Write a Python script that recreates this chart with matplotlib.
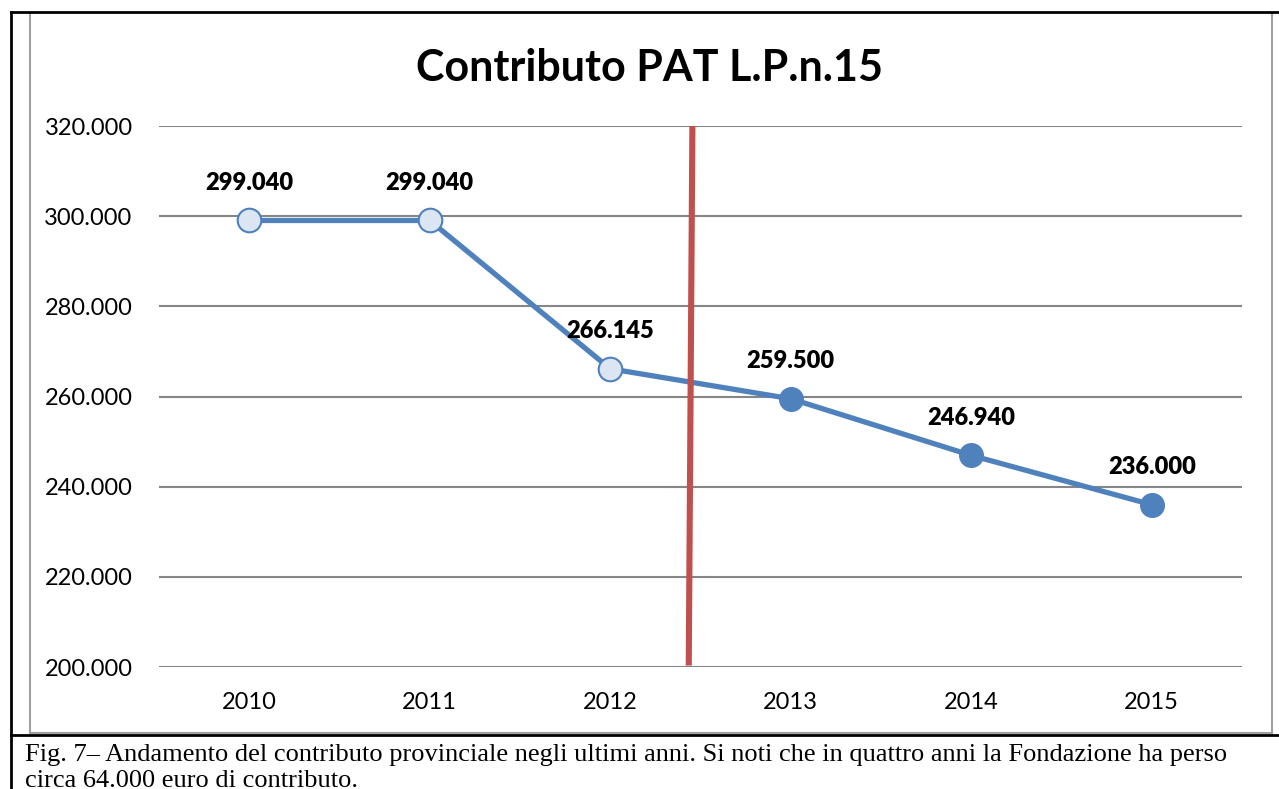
import matplotlib.pyplot as plt
from matplotlib.lines import Line2D

# dati
anni = ['2010', '2011', '2012', '2013', '2014', '2015']
contributo = [299.040, 299.040, 266.145, 259.500, 246.940, 236.000]
etichette = ['299.040', '299.040', '266.145', '259.500', '246.940', '236.000']
y_ticks = [200, 220, 240, 260, 280, 300, 320]
y_labels = ['200.000', '220.000', '240.000', '260.000', '280.000', '300.000', '320.000']
n_chiari = 3  # primi tre punti con marcatore chiaro

blu = '#4F81BD'
chiaro = '#DCE6F2'
rosso = '#C0504D'
grigio = '#868686'

fig = plt.figure(figsize=(12.79, 7.89), dpi=100)
W, H = 1279, 789

ax = fig.add_axes([159 / W, 122 / H, (1242 - 159) / W, (663 - 122) / H])
x = list(range(len(anni)))

ax.plot(x, contributo, color=blu, lw=3.8, zorder=3, solid_capstyle='round')
ax.plot(x[:n_chiari], contributo[:n_chiari], 'o', ms=17, mfc=chiaro, mec=blu, mew=1.5, zorder=4)
ax.plot(x[n_chiari:], contributo[n_chiari:], 'o', ms=17, mfc=blu, mec=blu, zorder=4)

for xi, yi, lab in zip(x, contributo, etichette):
    ax.annotate(lab, (xi, yi), xytext=(0, 27), textcoords='offset points',
                ha='center', va='center', fontsize=17, fontweight='heavy',
                family='Lato', color='black', zorder=5)

# linea rossa di separazione
ax.plot([2.455, 2.435], [319.5, 201], color=rosso, lw=4.4, zorder=6)

ax.set_xlim(-0.5, 5.5)
ax.set_ylim(200, 320)
ax.set_yticks(y_ticks)
ax.set_yticklabels(y_labels, family='Lato', fontsize=17)
ax.set_xticks(x)
ax.set_xticklabels(anni, family='Lato', fontsize=17)
ax.tick_params(length=0)
ax.tick_params(axis='y', pad=19)
ax.tick_params(axis='x', pad=18)
ax.grid(axis='y', color=grigio, lw=1.5)
ax.set_axisbelow(True)
for s in ax.spines.values():
    s.set_visible(False)

fig.text(650 / W, 1 - 68 / H, 'Contributo PAT L.P.n.15', ha='center', va='center',
         fontsize=31, fontweight='bold', family='Lato')

# cornici
def linea(x0, y0, x1, y1, c, lw):
    fig.add_artist(Line2D([x0 / W, x1 / W], [1 - y0 / H, 1 - y1 / H], color=c, lw=lw,
                          transform=fig.transFigure))

linea(30, 13, 30, 733, '#A0A0A0', 1.5)
linea(1272, 13, 1272, 733, '#A0A0A0', 1.5)
linea(30, 733, 1272, 733, '#A0A0A0', 1.5)
linea(11, 12, 1279, 12, 'black', 2)
linea(11, 12, 11, 789, 'black', 2)
linea(11, 734.5, 1279, 734.5, 'black', 2)

fig.text(25 / W, 1 - 761 / H,
         'Fig. 7– Andamento del contributo provinciale negli ultimi anni. Si noti che in quattro anni la Fondazione ha perso',
         ha='left', va='baseline', fontsize=19, family='Liberation Serif')
fig.text(25 / W, 1 - 787 / H, 'circa 64.000 euro di contributo.',
         ha='left', va='baseline', fontsize=19, family='Liberation Serif')

fig.savefig('out.png', dpi=100)
